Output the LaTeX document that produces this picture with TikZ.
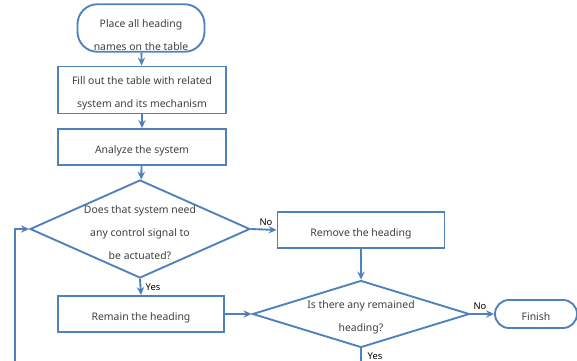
\documentclass[tikz,border=0pt]{standalone}
\usepackage{fontspec}
\setmainfont{Noto Sans}
\usetikzlibrary{arrows.meta,shapes.geometric}
\definecolor{flowblue}{HTML}{4F81BD}
\definecolor{textgray}{HTML}{404040}

\begin{document}
\begin{tikzpicture}[
    x=0.03cm, y=-0.03cm,
    >={Stealth[length=2.4mm,width=2.2mm]},
    base/.style={draw=flowblue, line width=1.6pt, fill=white, text=textgray, align=center,
      font=\fontsize{8.9}{19.5}\selectfont, inner sep=1pt},
    term/.style={base, rectangle, rounded corners=0.6cm},
    proc/.style={base, rectangle, minimum width=5.04cm, minimum height=1.08cm},
    decision/.style={base, diamond, inner ysep=-30pt, inner xsep=-14pt},
    flow/.style={->, line width=1.6pt, flowblue},
    lbl/.style={font=\fontsize{8}{9}\selectfont\bfseries, inner sep=1pt}
  ]
  \useasboundingbox (0,0) rectangle (577,361);

  % Steps
  \node[term, minimum width=3.81cm, minimum height=1.41cm] (start) at (141,28) {\rule{0pt}{19pt}Place all heading\\names on the table};
  \node[proc, minimum height=1.41cm] (fill) at (142,90) {\rule{0pt}{13pt}Fill out the table with related\\system and its mechanism};
  \node[proc] (analyze) at (142,147) {\rule{0pt}{13pt}Analyze the system};
  \node[decision, minimum width=6.6cm, minimum height=2.94cm] (need) at (140,229) {\rule{0pt}{13pt}Does that system need\\any control signal to\\be actuated?};
  \node[proc, minimum width=5.01cm] (remove) at (361,230) {\rule{0pt}{13pt}Remove the heading};
  \node[proc, minimum width=4.98cm] (remain) at (141,314) {\rule{0pt}{13pt}Remain the heading};
  \node[decision, minimum width=6.51cm, minimum height=2.01cm] (remained) at (361,314) {\rule{0pt}{13pt}Is there any remained\\heading?};
  \node[term, rounded corners=0.42cm, minimum width=2.46cm, minimum height=0.84cm] (finish) at (536,314) {\rule{0pt}{11pt}Finish};

  % Free ends at the bottom edge
  \coordinate (loopin) at (15,361);
  \coordinate (yesout) at (361,361);

  % Connectors
  \draw[flow] (start) -- (fill);
  \draw[flow] (fill) -- (analyze);
  \draw[flow] (analyze) -- (need);
  \draw[flow] (need.east) -- (remove.west);
  \draw[flow] (need.south) -- (remain.north);
  \draw[flow] (remove.south) -- (remained.north);
  \draw[flow] (remain.east) -- (remained.west);
  \draw[flow] (remained.east) -- (finish.west);
  \draw[flow, -] (remained.south) -- (yesout);
  \draw[flow] (loopin) |- (need.west);

  % Labels
  \node[lbl] (no1) at (266,222) {No};
  \node[lbl] (yes1) at (153,287) {Yes};
  \node[lbl] (no2) at (480,306) {No};
  \node[lbl] (yes2) at (375,356) {Yes};
\end{tikzpicture}
\end{document}
